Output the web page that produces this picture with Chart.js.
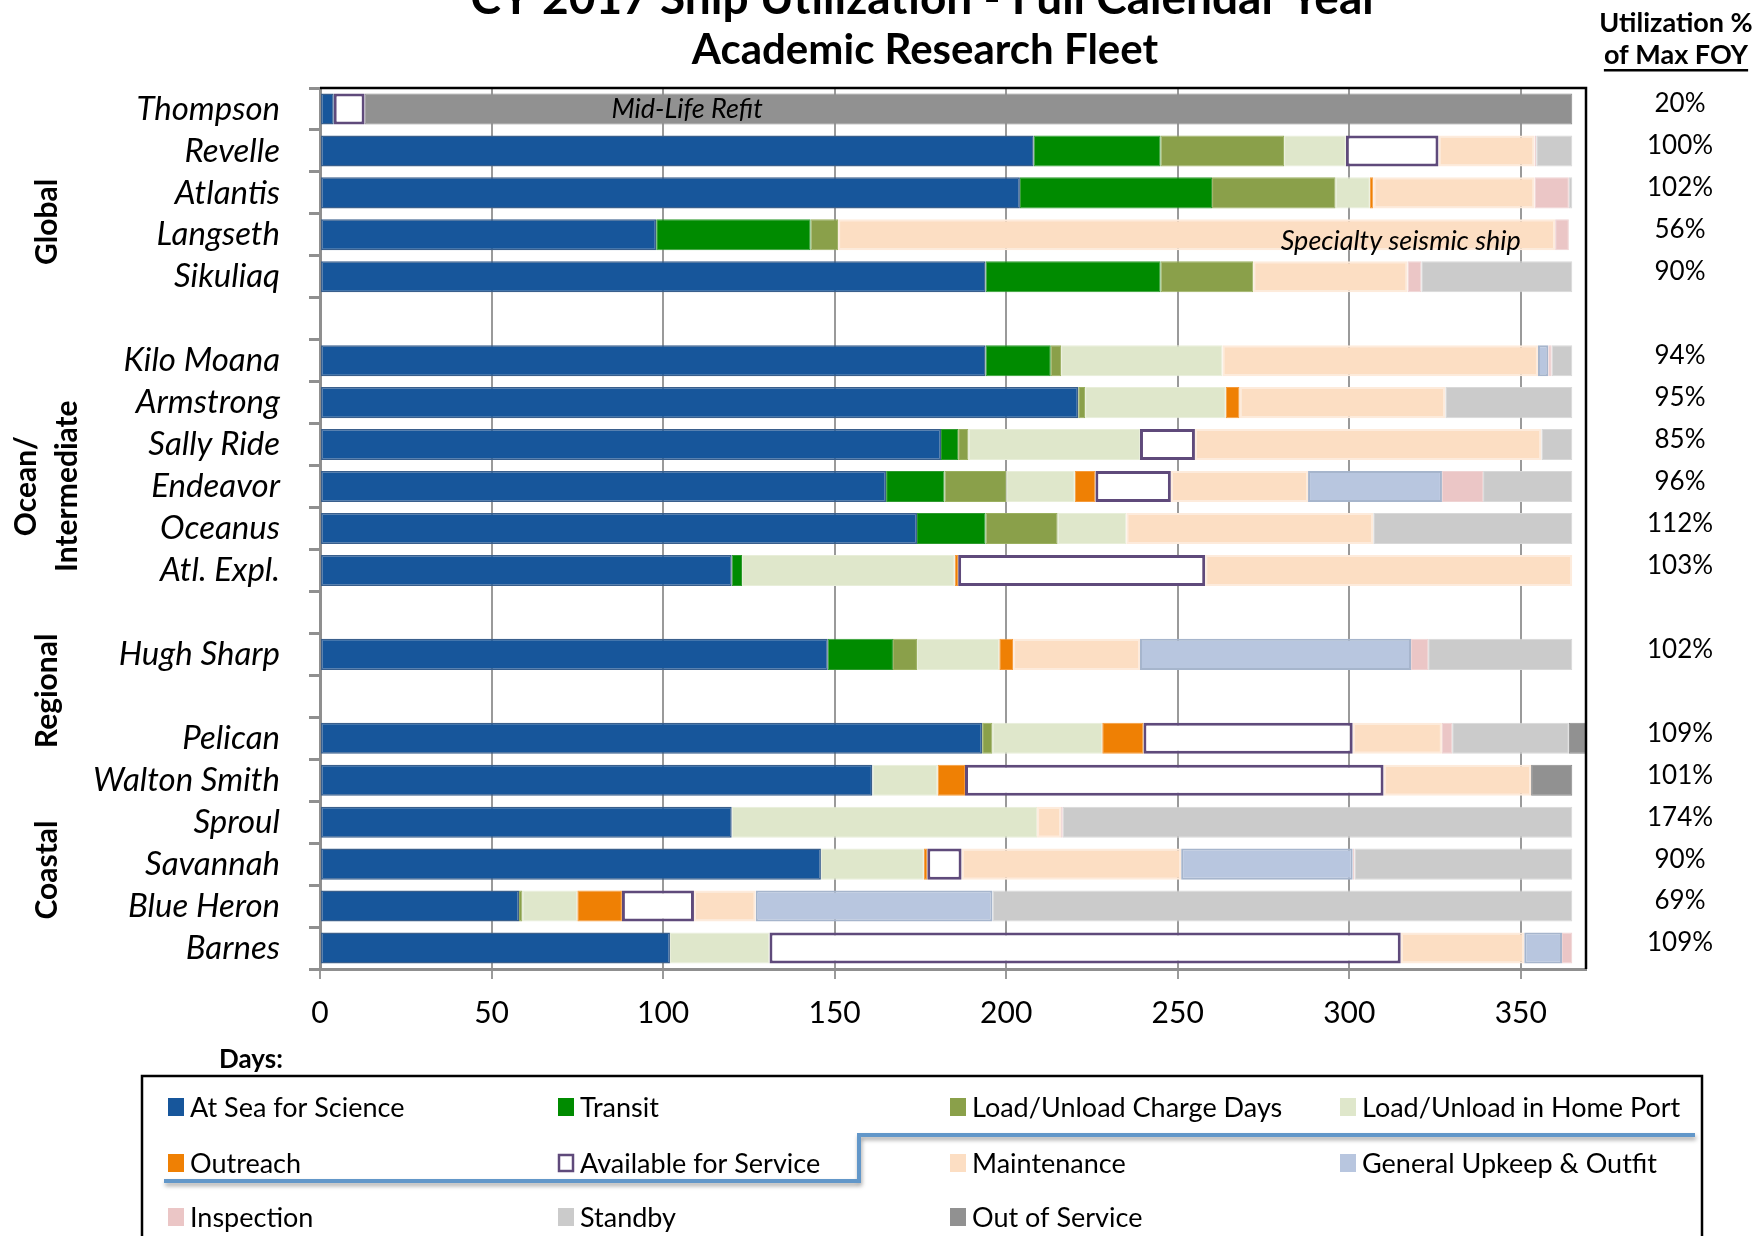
<!DOCTYPE html>
<html>
<head>
<meta charset="utf-8">
<script src="https://cdn.jsdelivr.net/npm/chart.js@4/dist/chart.umd.min.js"></script>
<style>
  html, body { margin: 0; padding: 0; background: #fff; }
  canvas { display: block; }
</style>
</head>
<body>
<canvas id="fleetChart" width="1760" height="1236"></canvas>
<script>
// rows of the chart, blank strings are the spacer rows between ship classes
const ships = ['Thompson', 'Revelle', 'Atlantis', 'Langseth', 'Sikuliaq', '',
    'Kilo Moana', 'Armstrong', 'Sally Ride', 'Endeavor', 'Oceanus', 'Atl. Expl.', '',
    'Hugh Sharp', '',
    'Pelican', 'Walton Smith', 'Sproul', 'Savannah', 'Blue Heron', 'Barnes'];

const utilization = ['20%', '100%', '102%', '56%', '90%', '',
    '94%', '95%', '85%', '96%', '112%', '103%', '',
    '102%', '',
    '109%', '101%', '174%', '90%', '69%', '109%'];

// days per category
const science     = [4, 208, 204, 98, 194, null, 194, 221, 181, 165, 174, 120, null, 148, null, 193, 161, 120, 146, 58, 102];
const transit     = [0, 37, 56, 45, 51, null, 19, 0, 5, 17, 20, 3, null, 19, null, 0, 0, 0, 0, 0, 0];
const chargeDays  = [0, 36, 36, 8, 27, null, 3, 2, 3, 18, 21, 0, null, 7, null, 3, 0, 0, 0, 1, 0];
const homePort    = [0, 18, 10, 0, 0, null, 47, 41, 50, 20, 20, 62, null, 24, null, 32, 19, 89, 30, 16, 29];
const outreach    = [0, 0, 1, 0, 0, null, 0, 4, 0, 6, 0, 1, null, 4, null, 12, 8, 0, 1, 13, 0];
const available   = [9, 27, 0, 0, 0, null, 0, 0, 16, 22, 0, 72, null, 0, null, 61, 122, 0, 10, 21, 184];
const maintenance = [0, 28, 47, 209, 45, null, 92, 60, 101, 40, 72, 107, null, 37, null, 26, 43, 7, 64, 18, 36];
const upkeep      = [0, 0, 0, 0, 0, null, 3, 0, 0, 39, 0, 0, null, 79, null, 0, 0, 0, 50, 69, 11];
const inspection  = [0, 0.5, 10, 4, 4, null, 1, 0, 0, 12, 0, 0, null, 5, null, 3, 0, 0.5, 0.5, 0, 3];
const standby     = [0, 10.5, 1, 0, 44, null, 6, 37, 9, 26, 58, 0, null, 42, null, 34, 0, 148.5, 63.5, 169, 0];
const outOfSvc    = [352, 0, 0, 0, 0, null, 0, 0, 0, 0, 0, 0, null, 0, null, 5, 12, 0, 0, 0, 0];

const xTicks = [0, 50, 100, 150, 200, 250, 300, 350];

const groups = [
    { label: ['Global'], row: 2.69 },
    { label: ['Ocean/', 'Intermediate'], row: 8.99 },
    { label: ['Regional'], row: 13.87 },
    { label: ['Coastal'], row: 18.14 }
];

const notes = [
    { ship: 'Thompson', day: 107, shift: 0, text: 'Mid-Life Refit' },
    { ship: 'Langseth', day: 315, shift: 0.15, text: 'Specialty seismic ship' }
];

const FONT = 'Lato, "Open Sans", sans-serif';

const series = [
    ['At Sea for Science', science, '#17569b', '#3a5f8c', 1.5],
    ['Transit', transit, '#008b00', '#2e9a2e', 1],
    ['Load/Unload Charge Days', chargeDays, '#8aa04a', '#9bb060', 1],
    ['Load/Unload in Home Port', homePort, '#dfe7cb', '#e8eed9', 1],
    ['Outreach', outreach, '#ef8004', '#f59a3a', 1],
    ['Available for Service', available, '#ffffff', '#5f4a7b', 3],
    ['Maintenance', maintenance, '#fcdec3', '#fdebdc', 2],
    ['General Upkeep & Outfit', upkeep, '#b8c6df', '#a6b5cc', 2],
    ['Inspection', inspection, '#ebc6c6', '#efd3d3', 1],
    ['Standby', standby, '#cbcbcb', '#d8d8d8', 1],
    ['Out of Service', outOfSvc, '#919191', '#8a8a8a', 1]
];

const datasets = series.map(([label, data, bg, border, bw]) => ({
    label: label,
    data: data,
    backgroundColor: bg,
    borderColor: border,
    borderWidth: bw,
    borderSkipped: false,
    barPercentage: 0.74,
    categoryPercentage: 1
}));

const extras = {
    id: 'extras',
    afterDraw(chart) {
        const c = chart.ctx;
        const area = chart.chartArea;
        const xs = chart.scales.x;
        const ys = chart.scales.y;
        c.save();

        // black frame on top and right
        c.strokeStyle = '#000';
        c.lineWidth = 2.5;
        c.beginPath();
        c.moveTo(area.left, area.top);
        c.lineTo(area.right, area.top);
        c.lineTo(area.right, area.bottom);
        c.stroke();

        c.fillStyle = '#000';
        c.textAlign = 'center';
        c.textBaseline = 'alphabetic';

        // title
        c.font = 'bold 46px ' + FONT;
        c.fillText('CY 2017 Ship Utilization - Full Calendar Year', 925, 14);
        c.font = 'bold 42px ' + FONT;
        c.fillText('Academic Research Fleet', 925, 64);

        // right column header
        c.font = 'bold 27px ' + FONT;
        c.fillText('Utilization %', 1676, 32);
        c.fillText('of Max FOY', 1676, 64);
        const hw = c.measureText('of Max FOY').width;
        c.fillRect(1676 - hw / 2, 69, hw, 2.5);

        // group labels
        c.font = 'bold 30px ' + FONT;
        c.textBaseline = 'middle';
        groups.forEach(g => {
            const y = ys.getPixelForValue(g.row);
            c.save();
            c.translate(47, y);
            c.rotate(-Math.PI / 2);
            g.label.forEach((line, i) => {
                const off = (i - (g.label.length - 1) / 2) * 41;
                c.fillText(line, 0, off);
            });
            c.restore();
        });

        // notes on bars
        c.font = 'italic 27px ' + FONT;
        notes.forEach(n => {
            const y = ys.getPixelForValue(ships.indexOf(n.ship) + n.shift);
            c.fillText(n.text, xs.getPixelForValue(n.day), y);
        });

        // axis caption
        c.font = 'bold 26px ' + FONT;
        c.fillText('Days:', 251, 1060);

        // legend box
        c.strokeStyle = '#000';
        c.lineWidth = 2.5;
        c.strokeRect(142, 1076, 1560, 200);

        // step separator line inside legend
        c.save();
        c.shadowColor = 'rgba(0,0,0,0.35)';
        c.shadowBlur = 4;
        c.shadowOffsetX = 1;
        c.shadowOffsetY = 3;
        c.strokeStyle = '#6297c9';
        c.lineWidth = 4;
        c.beginPath();
        c.moveTo(164, 1181);
        c.lineTo(859, 1181);
        c.lineTo(859, 1135);
        c.lineTo(1695, 1135);
        c.stroke();
        c.restore();

        // legend items
        const colX = [168, 558, 950, 1340];
        const rowY = [1107, 1163, 1217];
        c.font = '27px ' + FONT;
        c.textAlign = 'left';
        chart.data.datasets.forEach((ds, i) => {
            const x = colX[i % 4];
            const y = rowY[Math.floor(i / 4)];
            c.fillStyle = ds.backgroundColor;
            c.fillRect(x, y - 9, 16, 18);
            if (ds.backgroundColor === '#ffffff') {
                c.strokeStyle = ds.borderColor;
                c.lineWidth = 2.5;
                c.strokeRect(x + 1, y - 8, 14, 16);
            }
            c.fillStyle = '#000';
            c.fillText(ds.label, x + 22, y + 1);
        });

        c.restore();
    }
};

const ctx = document.getElementById('fleetChart').getContext('2d');

new Chart(ctx, {
    type: 'bar',
    data: { labels: ships, datasets: datasets },
    options: {
        indexAxis: 'y',
        responsive: false,
        animation: false,
        layout: { padding: { top: 88, bottom: 207, left: 0, right: 0 } },
        plugins: {
            legend: { display: false },
            tooltip: { enabled: false }
        },
        scales: {
            x: {
                stacked: true,
                min: 0,
                max: 369,
                afterBuildTicks: s => { s.ticks = xTicks.map(v => ({ value: v })); },
                ticks: { font: { family: FONT, size: 30 }, color: '#000', padding: 16 },
                grid: { color: '#9a9a9a', lineWidth: 2, tickLength: 10 },
                border: { color: '#8f8f8f', width: 3 },
                afterFit: s => { s.height = 60; }
            },
            y: {
                stacked: true,
                offset: true,
                grid: { offset: true, drawOnChartArea: false, tickLength: 11, color: '#8f8f8f', lineWidth: 3 },
                border: { color: '#8f8f8f', width: 3 },
                ticks: { font: { family: FONT, size: 33, style: 'italic' }, color: '#000', padding: 29, autoSkip: false },
                afterFit: s => { s.width = 320; }
            },
            y2: {
                type: 'category',
                labels: utilization,
                position: 'right',
                offset: true,
                grid: { display: false, drawTicks: false },
                border: { display: false },
                ticks: { font: { family: FONT, size: 26 }, color: '#000', padding: 61, labelOffset: -5, crossAlign: 'center', autoSkip: false },
                afterFit: s => { s.width = 174; }
            }
        }
    },
    plugins: [extras]
});
</script>
</body>
</html>
